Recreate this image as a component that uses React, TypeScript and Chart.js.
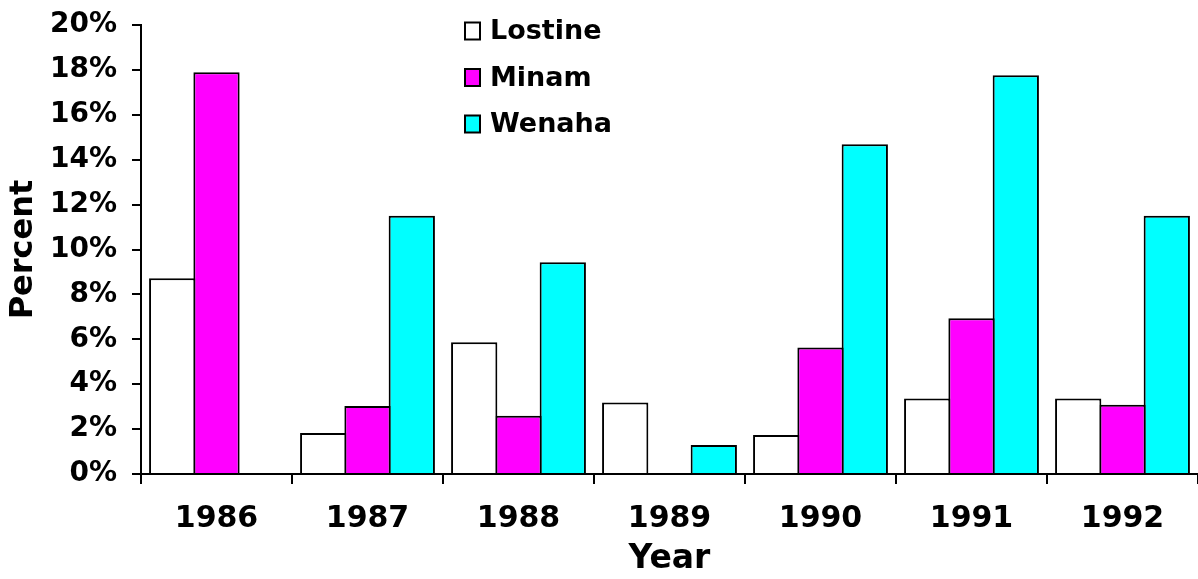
import React, { useEffect, useRef } from 'react';
import { Chart, registerables } from 'chart.js';

Chart.register(...registerables);

const years = ['1986', '1987', '1988', '1989', '1990', '1991', '1992'];
const lostine = [8.72, 1.83, 5.87, 3.19, 1.74, 3.36, 3.36];
const minam = [17.89, 3.03, 2.6, null, 5.64, 6.94, 3.09];
const wenaha = [null, 11.5, 9.43, 1.29, 14.69, 17.76, 11.5];
const seriesNames = ['Lostine', 'Minam', 'Wenaha'];
const seriesColors = ['#ffffff', '#ff00ff', '#00ffff'];
const yTicks = [0, 2, 4, 6, 8, 10, 12, 14, 16, 18, 20];

const FONT = '"DejaVu Sans", sans-serif';

const legendPlugin = {
  id: 'customLegend',
  afterDraw(chart: any) {
    const ctx = chart.ctx;
    ctx.save();
    const rowY = [31, 77.5, 124];
    chart.data.datasets.forEach((ds: any, i: number) => {
      const cy = rowY[i];
      ctx.fillStyle = ds.backgroundColor;
      ctx.fillRect(465, cy - 8.5, 15, 17);
      ctx.lineWidth = 2;
      ctx.strokeStyle = '#000';
      ctx.strokeRect(465, cy - 8.5, 15, 17);
      ctx.fillStyle = '#000';
      ctx.font = `bold 27px ${FONT}`;
      ctx.textBaseline = 'middle';
      ctx.textAlign = 'left';
      ctx.fillText(ds.label, 490, cy + 1);
    });
    ctx.restore();
  },
};

export default function App() {
  const ref = useRef<HTMLCanvasElement>(null);
  useEffect(() => {
    if (!ref.current) return;
    const data = [lostine, minam, wenaha];
    const chart = new Chart(ref.current, {
      type: 'bar',
      data: {
        labels: years,
        datasets: seriesNames.map((name, i) => ({
          label: name,
          data: data[i] as any,
          backgroundColor: seriesColors[i],
          borderColor: '#000',
          borderWidth: 2,
          categoryPercentage: 0.88,
          barPercentage: 1.045,
        })),
      },
      options: {
        responsive: false,
        animation: false,
        layout: { padding: { top: 25, right: 0, left: 0, bottom: 0 } },
        plugins: {
          legend: { display: false },
          tooltip: { enabled: false },
        },
        scales: {
          x: {
            afterFit: (s: any) => { s.height = 105; s.paddingLeft = 0; s.paddingRight = 0; },
            border: { display: true, color: '#000', width: 2 },
            grid: { offset: true, drawOnChartArea: false, color: '#000', lineWidth: 2, tickLength: 10 },
            ticks: { color: '#000', padding: 17, font: { family: FONT, size: 30, weight: 'bold' } },
            title: { display: true, text: 'Year', color: '#000', padding: { top: 0, bottom: 0 }, font: { family: FONT, size: 33, weight: 'bold' } },
          },
          y: {
            min: 0,
            max: 20,
            afterFit: (s: any) => { s.width = 141; s.paddingTop = 0; s.paddingBottom = 0; },
            afterBuildTicks: (s: any) => { s.ticks = yTicks.map((v) => ({ value: v })); },
            border: { display: true, color: '#000', width: 2 },
            grid: { drawOnChartArea: false, color: '#000', lineWidth: 2, tickLength: 9 },
            ticks: { color: '#000', padding: 15, callback: (v: any) => `${v}%`, font: { family: FONT, size: 28, weight: 'bold' } },
            title: { display: true, text: 'Percent', color: '#000', padding: { top: 4, bottom: 0 }, font: { family: FONT, size: 32, weight: 'bold' } },
          },
        },
      },
      plugins: [legendPlugin],
    });
    return () => chart.destroy();
  }, []);
  return (
    <div style={{ position: 'absolute', left: 0, top: 0, width: 1198, height: 579, background: '#fff' }}>
      <canvas ref={ref} width={1198} height={579} style={{ display: 'block' }} />
    </div>
  );
}
